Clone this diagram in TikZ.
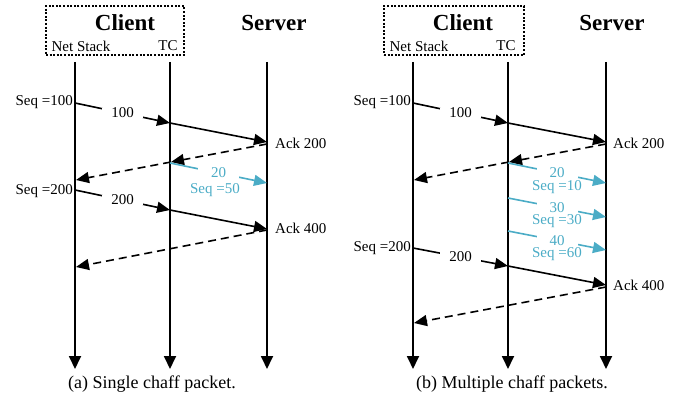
\documentclass[tikz,border=0pt]{standalone}
\usepackage{fontspec}
\setmainfont{Liberation Serif}
\usetikzlibrary{arrows.meta}
\definecolor{chaffblue}{HTML}{4BACC6}
\tikzset{
  lbl/.style={font=\fontsize{15}{17}\selectfont, inner sep=0pt},
  head/.style={font=\fontsize{23}{26}\selectfont\bfseries, inner sep=0pt},
  captext/.style={font=\fontsize{18}{21}\selectfont, inner sep=0pt},
  life/.style={line width=1.8pt, -{Triangle[length=13pt,width=12pt]}},
  msg/.style={line width=1.6pt, -{Triangle[length=13pt,width=11pt]}},
  ack/.style={msg, dash pattern=on 8pt off 5pt},
  chaff/.style={msg, color=chaffblue},
  gap/.style={lbl, fill=white, inner xsep=9.5pt, inner ysep=0pt},
  cgap/.style={gap, inner xsep=13pt},
  clientbox/.style={draw, line width=1.2pt, dash pattern=on 2pt off 1.6pt},
}
\begin{document}
\begin{tikzpicture}[x=1pt, y=-1pt]
\useasboundingbox (0,0) rectangle (678,404);

% ---------------- (a) single chaff packet ----------------
\node[clientbox, minimum width=138pt, minimum height=49pt, inner sep=0pt] (boxA) at (115,30.5) {};
\node[head] (clientA) at (125,23) {Client};
\node[head] (serverA) at (274,23) {Server};
\node[lbl] (nsA) at (81,46) {Net Stack};
\node[lbl] (tcA) at (168,46) {TC};

\coordinate (nsAtop) at (75,62);  \coordinate (nsAbot) at (75,369);
\coordinate (tcAtop) at (170,62); \coordinate (tcAbot) at (170,369);
\coordinate (svAtop) at (267,62); \coordinate (svAbot) at (267,369);
\draw[life] (nsAtop) -- (nsAbot);
\draw[life] (tcAtop) -- (tcAbot);
\draw[life] (svAtop) -- (svAbot);

% first data packet
\coordinate (a1n) at (75,103); \coordinate (a1t) at (170,123); \coordinate (a1s) at (267,142);
\draw[msg] (a1n) -- node[gap] {100} (a1t);
\draw[msg] (a1t) -- (a1s);
\node[lbl, anchor=east] (seqA1) at (73,102) {Seq =100};
\node[lbl, anchor=west] (ackA1) at (275,143) {Ack 200};

% first ack
\coordinate (k1s) at (267,144); \coordinate (k1t) at (171,162); \coordinate (k1n) at (76,180);
\draw[ack] (k1s) -- (k1t);
\draw[ack] (k1t) -- (k1n);

% chaff packet
\coordinate (c1t) at (170,163); \coordinate (c1s) at (267,183);
\draw[chaff] (c1t) -- node[cgap] {20} (c1s);
\node[lbl, text=chaffblue] (cseqA) at (215,190) {Seq =50};

% second data packet
\coordinate (a2n) at (75,190); \coordinate (a2t) at (170,210); \coordinate (a2s) at (267,229);
\draw[msg] (a2n) -- node[gap] {200} (a2t);
\draw[msg] (a2t) -- (a2s);
\node[lbl, anchor=east] (seqA2) at (73,191) {Seq =200};
\node[lbl, anchor=west] (ackA2) at (275,228) {Ack 400};

% second ack
\coordinate (k2s) at (267,230); \coordinate (k2n) at (76,267);
\draw[ack] (k2s) -- (k2n);

\node[captext] (capA) at (152,384) {(a) Single chaff packet.};

% ---------------- (b) multiple chaff packets ----------------
\node[clientbox, minimum width=140pt, minimum height=49pt, inner sep=0pt] (boxB) at (454,30.5) {};
\node[head] (clientB) at (463,23) {Client};
\node[head] (serverB) at (612,23) {Server};
\node[lbl] (nsB) at (419,46) {Net Stack};
\node[lbl] (tcB) at (506,46) {TC};

\coordinate (nsBtop) at (413,62); \coordinate (nsBbot) at (413,369);
\coordinate (tcBtop) at (508,62); \coordinate (tcBbot) at (508,369);
\coordinate (svBtop) at (606,62); \coordinate (svBbot) at (606,369);
\draw[life] (nsBtop) -- (nsBbot);
\draw[life] (tcBtop) -- (tcBbot);
\draw[life] (svBtop) -- (svBbot);

% first data packet
\coordinate (b1n) at (413,103); \coordinate (b1t) at (508,123); \coordinate (b1s) at (606,142);
\draw[msg] (b1n) -- node[gap] {100} (b1t);
\draw[msg] (b1t) -- (b1s);
\node[lbl, anchor=east] (seqB1) at (411,102) {Seq =100};
\node[lbl, anchor=west] (ackB1) at (613,143) {Ack 200};

% first ack
\coordinate (m1s) at (606,144); \coordinate (m1t) at (509,162); \coordinate (m1n) at (414,180);
\draw[ack] (m1s) -- (m1t);
\draw[ack] (m1t) -- (m1n);

% chaff packets
\coordinate (d1t) at (508,163); \coordinate (d1s) at (606,183);
\draw[chaff] (d1t) -- node[cgap] {20} (d1s);
\node[lbl, text=chaffblue] (dseq1) at (557,187) {Seq =10};
\coordinate (d2t) at (508,198); \coordinate (d2s) at (606,217);
\draw[chaff] (d2t) -- node[cgap] {30} (d2s);
\node[lbl, text=chaffblue] (dseq2) at (557,221) {Seq =30};
\coordinate (d3t) at (508,231); \coordinate (d3s) at (606,250);
\draw[chaff] (d3t) -- node[cgap] {40} (d3s);
\node[lbl, text=chaffblue] (dseq3) at (557,254) {Seq =60};

% second data packet
\coordinate (b2n) at (413,248); \coordinate (b2t) at (508,266); \coordinate (b2s) at (606,285);
\draw[msg] (b2n) -- node[gap] {200} (b2t);
\draw[msg] (b2t) -- (b2s);
\node[lbl, anchor=east] (seqB2) at (411,248) {Seq =200};
\node[lbl, anchor=west] (ackB2) at (613,285) {Ack 400};

% second ack
\coordinate (m2s) at (606,287); \coordinate (m2n) at (414,323);
\draw[ack] (m2s) -- (m2n);

\node[captext] (capB) at (512,384) {(b) Multiple chaff packets.};
\end{tikzpicture}
\end{document}
